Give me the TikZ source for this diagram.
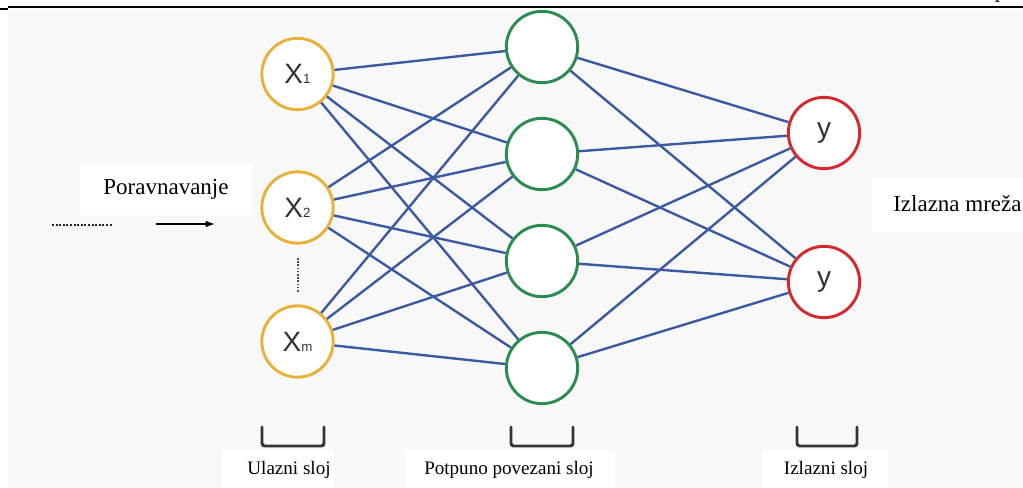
\documentclass[tikz,border=0pt]{standalone}
\usepackage{fontspec}
\setmainfont{Liberation Serif}
\newfontfamily\nodefont{Liberation Sans}
\usetikzlibrary{arrows.meta}
\definecolor{bgc}{HTML}{F8F8F8}
\definecolor{inc}{HTML}{E8B23A}
\definecolor{hidc}{HTML}{2A8C4E}
\definecolor{outc}{HTML}{D42A2E}
\definecolor{edgec}{HTML}{3C5AA2}
\definecolor{brc}{HTML}{333333}
\tikzset{
  neuron/.style={circle, minimum size=53.5pt, inner sep=0pt, line width=2.2pt, fill=white},
  inneuron/.style={neuron, draw=inc},
  hidneuron/.style={neuron, draw=hidc},
  outneuron/.style={neuron, draw=outc},
  conn/.style={draw=edgec, line width=1.8pt},
  lbl/.style={font=\fontsize{17.25}{20}\selectfont, inner sep=0pt},
  blbl/.style={font=\fontsize{14.3}{17}\selectfont, inner sep=0pt},
  whitebox/.style={fill=white, draw=none},
  bracketline/.style={draw=brc, line width=2.2pt, line cap=round, line join=round, rounded corners=2pt},
  nlabel/.style={font=\nodefont\fontsize{21}{22}\selectfont\color{black!80}}
}
\newcommand{\xsub}[1]{X{\fontsize{10}{10}\selectfont #1}}
\begin{document}
\begin{tikzpicture}[x=0.75pt,y=-0.75pt]
\useasboundingbox (0,0) rectangle (1023,488);
% background
\fill[white] (0,0) rectangle (1023,488);
\fill[bgc] (8,10) rectangle (1023,488);
% header rule
\draw[black, line width=1.5pt] (8,7) -- (1023,7);
\draw[black, line width=2.2pt] (0,9) -- (8,9);
\node[font=\itshape\fontsize{17}{20}\selectfont, anchor=base, inner sep=0pt] (hdr) at (1002,-2) {p};
% label boxes
\fill[whitebox] (80,163) rectangle (252,215);
\fill[whitebox] (872,178) rectangle (1023,232);
\fill[whitebox] (222,450) rectangle (334,488);
\fill[whitebox] (405,450) rectangle (615,488);
\fill[whitebox] (762,450) rectangle (888,488);
% neurons
\node[inneuron, nlabel] (x1) at (297.5,74) {\xsub{1}};
\node[inneuron, nlabel] (x2) at (297.5,207.5) {\xsub{2}};
\node[inneuron, nlabel] (xm) at (297.5,341.5) {\xsub{m}};
\node[hidneuron] (h1) at (542,47) {};
\node[hidneuron] (h2) at (542,154) {};
\node[hidneuron] (h3) at (542,261) {};
\node[hidneuron] (h4) at (542,368) {};
\node[outneuron, nlabel] (y1) at (824,133) {y};
\node[outneuron, nlabel] (y2) at (824,282) {y};
% connections
\foreach \i in {x1,x2,xm}{
  \foreach \h in {h1,h2,h3,h4}{
    \draw[conn] (\i) -- (\h);
  }
}
\foreach \h in {h1,h2,h3,h4}{
  \foreach \o in {y1,y2}{
    \draw[conn] (\h) -- (\o);
  }
}
% vertical dots between x2 and xm
\coordinate (vd1) at (298,258);
\coordinate (vd2) at (298,293);
\draw[black!70, line width=1.1pt, dash pattern=on 1.2pt off 1.2pt] (vd1) -- (vd2);
% flatten input
\coordinate (d1) at (52,225);
\coordinate (d2) at (112,225);
\draw[black!85, line width=1.3pt, dash pattern=on 1.5pt off 1.2pt] (d1) -- (d2);
\coordinate (a1) at (156,224);
\coordinate (a2) at (215,224);
\draw[black, line width=1.1pt, -{Latex[length=7pt,width=5pt]}] (a1) -- (a2);
\node[lbl] (por) at (166,189) {Poravnavanje};
\node[lbl, anchor=west] (izm) at (893,204) {Izlazna mreža};
% brackets
\foreach \xa/\xb in {262/324, 511/573, 797/857}{
  \draw[bracketline] (\xa,427) -- (\xa,446) -- (\xb,446) -- (\xb,427);
}
\node[blbl] (l1) at (289,470) {Ulazni sloj};
\node[blbl] (l2) at (509,470) {Potpuno povezani sloj};
\node[blbl] (l3) at (826,470) {Izlazni sloj};
\end{tikzpicture}
\end{document}
